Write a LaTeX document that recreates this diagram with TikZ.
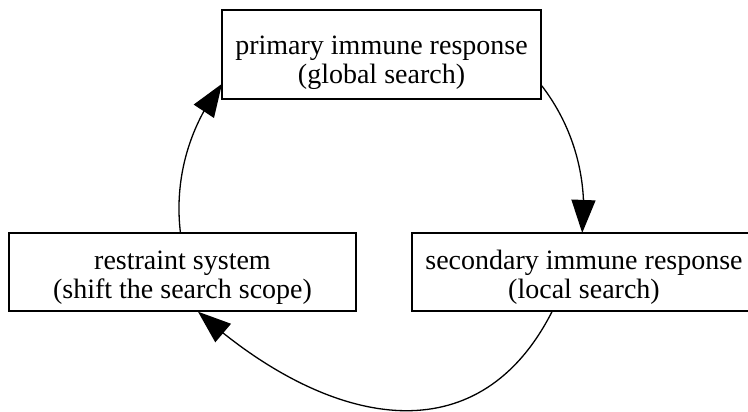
\documentclass[tikz,border=0pt]{standalone}
\usepackage{fontspec}
\setmainfont{Liberation Serif}
\usetikzlibrary{arrows.meta,bending}
% two-line box label; the first argument sets the height of the top strut
\newcommand\boxlabel[3]{\begin{tabular}{@{}c@{}}\rule{0pt}{#1}#2\\#3\end{tabular}}
\begin{document}
\begin{tikzpicture}[x=1pt,y=1pt,
  stage/.style={draw=black, line width=1.4pt, inner sep=0pt,
    font=\fontsize{28}{29}\selectfont},
  flow/.style={line width=1.3pt, -{Triangle[length=33pt,width=24pt,flex]}}]
\useasboundingbox (0,0) rectangle (748,412);
\clip (0,0) rectangle (748,412);

% the three stages of the cycle
\node[stage, minimum width=319pt, minimum height=89pt] (primary) at (381.5,357.5)
  {\boxlabel{37.3pt}{primary immune response}{(global search)}};
\node[stage, minimum width=347pt, minimum height=78pt] (restraint) at (182.5,140)
  {\boxlabel{32.3pt}{restraint system}{(shift the search scope)}};
\node[stage, minimum width=344pt, minimum height=78pt] (secondary) at (584,140)
  {\boxlabel{32.3pt}{secondary immune response}{(local search)}};

% cycle: primary -> secondary -> restraint -> primary
\draw[flow] ([yshift=-31.2pt]primary.east)
  arc[start angle=37.6, end angle=-6.82, radius=202];
\draw[flow] ([xshift=-32pt]secondary.south)
  to[out=243, in=-42, looseness=1.22] ([xshift=15.5pt]restraint.south);
\draw[flow] ([xshift=-2.1pt]restraint.north)
  arc[start angle=186.8, end angle=141.9, radius=202];
\end{tikzpicture}
\end{document}
